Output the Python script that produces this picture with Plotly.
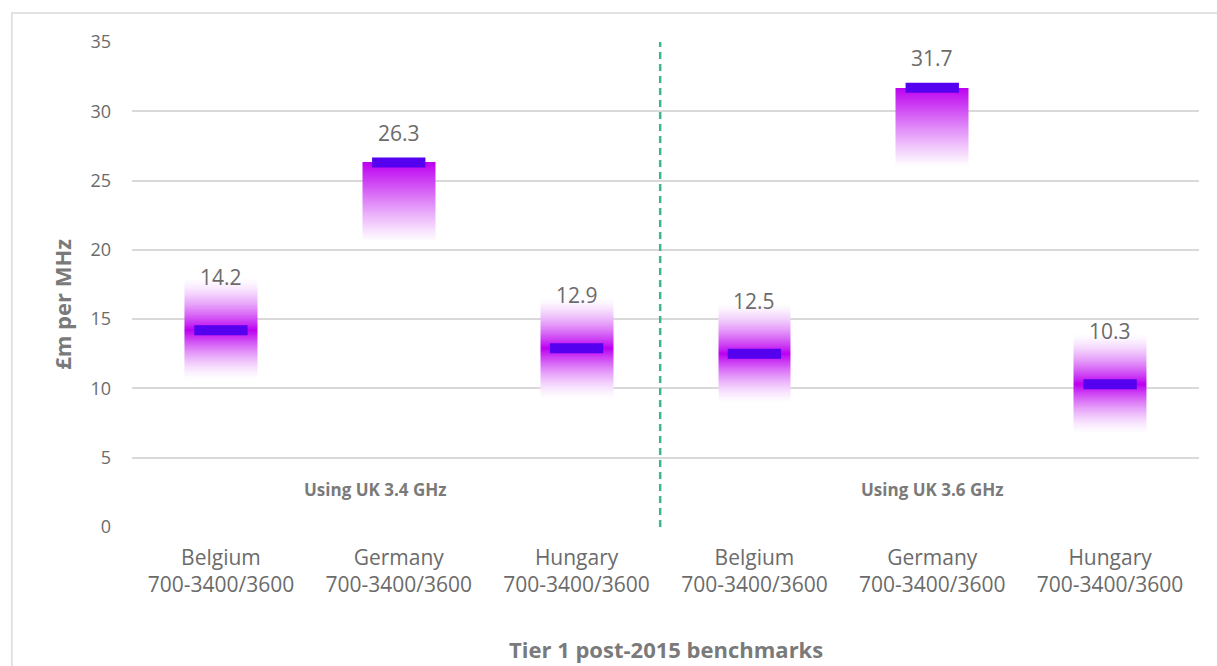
import numpy as np
import plotly.graph_objects as go

# Benchmark values (£m per MHz) with their low/high ranges
countries = ["Belgium", "Germany", "Hungary", "Belgium", "Germany", "Hungary"]
bands = ["700-3400/3600"] * 6
values = [14.2, 26.3, 12.9, 12.5, 31.7, 10.3]
lows = [10.6, 20.6, 9.2, 8.9, 26.0, 6.7]
highs = [18.0, 26.3, 16.6, 16.2, 31.7, 14.0]
groups = ["Using UK 3.4 GHz", "Using UK 3.6 GHz"]
y_ticks = [0, 5, 10, 15, 20, 25, 30, 35]

TEXT = "#6b6b6b"
TITLE = "#7a7a7a"
FONT = "Open Sans, Noto Sans, sans-serif"
PURPLE = "rgb(188, 0, 240)"
MARK = "#5500ee"
BAR_W = 0.41
MARK_W = 0.30
MARK_H = 0.72

xpos = np.arange(len(values))

# Gradient bands as a heatmap: intensity peaks at the value, fades to white at low/high
y_grid = np.arange(0, 35.0001, 0.04)
x_edges = []
for x in xpos:
    x_edges += [x - BAR_W / 2, x + BAR_W / 2]
z = np.full((len(y_grid) - 1, len(x_edges) - 1), np.nan)
y_mid = (y_grid[:-1] + y_grid[1:]) / 2
for i, (v, lo, hi) in enumerate(zip(values, lows, highs)):
    col = 2 * i
    one_sided = hi <= v
    power = 1.1 if one_sided else 1.5
    for j, y in enumerate(y_mid):
        if y < lo or y > hi:
            continue
        if y >= v:
            t = 1.0 if hi <= v else 1 - (y - v) / (hi - v)
        else:
            t = 1 - (v - y) / (v - lo)
        z[j, col] = max(t, 0) ** power

fig = go.Figure()
fig.add_trace(go.Heatmap(
    x=x_edges, y=y_grid, z=z,
    colorscale=[[0, "rgb(255,255,255)"], [1, PURPLE]],
    zmin=0, zmax=1, showscale=False, hoverinfo="skip",
))

# Value markers
fig.add_trace(go.Bar(
    x=xpos, y=[MARK_H] * len(values), base=[v - MARK_H / 2 for v in values],
    width=MARK_W, marker=dict(color=MARK, line=dict(width=0)),
    hovertext=[f"{c}: {v}" for c, v in zip(countries, values)], hoverinfo="text",
))

# Data labels
for x, v, hi in zip(xpos, values, highs):
    fig.add_annotation(x=x, y=v, text=f"{v}", showarrow=False,
                       yshift=30 if hi <= v else 53,
                       font=dict(size=21, color=TEXT, family=FONT))

# Group annotations
fig.add_annotation(x=0.87, y=2.7, text=f"<b>{groups[0]}</b>", showarrow=False,
                   font=dict(size=17, color=TITLE, family=FONT))
fig.add_annotation(x=4.0, y=2.7, text=f"<b>{groups[1]}</b>", showarrow=False,
                   font=dict(size=17, color=TITLE, family=FONT))

# Divider between the two groups
fig.add_shape(type="line", x0=2.47, x1=2.47, y0=0, y1=35, xref="x", yref="y",
              line=dict(color="#3cb88a", width=2.5, dash="7px,5px"))

# Axis titles
fig.add_annotation(xref="paper", yref="paper", x=0.5, y=-0.2515,
                   xanchor="center", yanchor="middle",
                   text="<b>Tier 1 post-2015 benchmarks</b>", showarrow=False,
                   font=dict(size=22, color=TITLE, family=FONT))
fig.add_annotation(xref="paper", yref="paper", x=-0.0657, y=0.46,
                   xanchor="center", yanchor="middle", textangle=-90,
                   text="<b>£m per MHz</b>", showarrow=False,
                   font=dict(size=22, color=TITLE, family=FONT))

# Outer chart frame
fig.add_shape(type="rect", xref="paper", yref="paper",
              x0=(12 - 132) / 1066, x1=(1240 - 132) / 1066,
              y0=(527 - 690) / 485, y1=(527 - 13) / 485,
              line=dict(color="#d9d9d9", width=1.5), fillcolor="rgba(0,0,0,0)", layer="below")

fig.update_layout(
    width=1217, height=666,
    margin=dict(l=132, r=18, t=42, b=139),
    paper_bgcolor="white", plot_bgcolor="white",
    showlegend=False, barmode="overlay",
    font=dict(family=FONT, color=TEXT),
    xaxis=dict(
        range=[-0.5, 5.5], tickmode="array", tickvals=xpos,
        ticktext=[f"{c}<br>{b}" for c, b in zip(countries, bands)],
        tickfont=dict(size=21, color=TEXT, family=FONT),
        showgrid=False, zeroline=False, showline=False, ticks="",
        ticklabelstandoff=16,
    ),
    yaxis=dict(
        range=[0, 35], tickvals=y_ticks,
        tickfont=dict(size=18, color=TEXT, family=FONT),
        showgrid=True, gridcolor="#d9d9d9", gridwidth=1.5,
        zeroline=False, showline=False, ticks="", ticklabelstandoff=20,
    ),
)

fig.write_html("out.html")
